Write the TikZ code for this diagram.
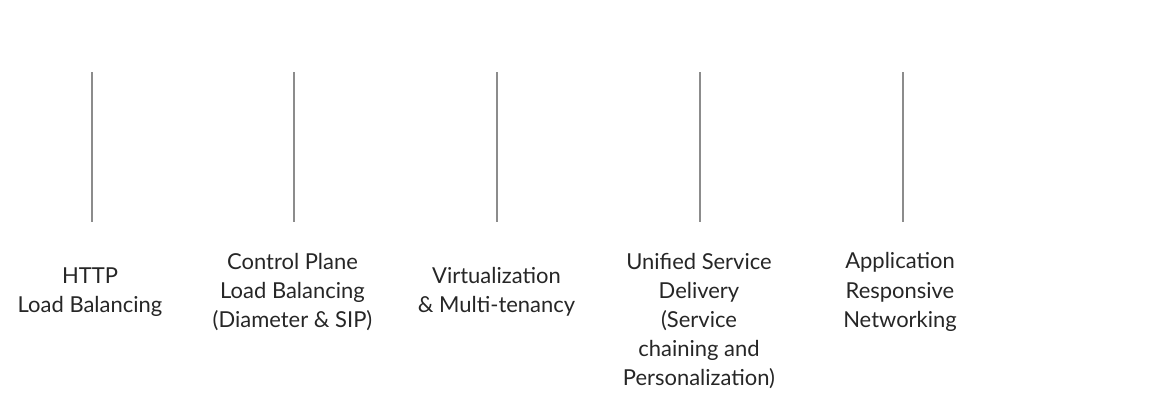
\documentclass[tikz,border=0pt]{standalone}
\usepackage{fontspec}
\setmainfont{Lato}
\begin{document}
\begin{tikzpicture}[
  lbl/.style={align=center, inner sep=2pt, text=black!85,
    font=\fontsize{12.5}{16.6}\selectfont},
  rule/.style={draw=gray!90, line width=0.7pt}
]
\useasboundingbox (0, 0) rectangle (22.98, 8.1);
\coordinate (t1) at (1.84, 6.66);
\coordinate (b1) at (1.84, 3.66);
\coordinate (t2) at (5.88, 6.66);
\coordinate (b2) at (5.88, 3.66);
\coordinate (t3) at (9.94, 6.66);
\coordinate (b3) at (9.94, 3.66);
\coordinate (t4) at (14.0, 6.66);
\coordinate (b4) at (14.0, 3.66);
\coordinate (t5) at (18.06, 6.66);
\coordinate (b5) at (18.06, 3.66);
\draw[rule] (t1) -- (b1);
\draw[rule] (t2) -- (b2);
\draw[rule] (t3) -- (b3);
\draw[rule] (t4) -- (b4);
\draw[rule] (t5) -- (b5);
\node[lbl] (http) at (1.8, 2.26) {HTTP\\Load Balancing};
\node[lbl] (ctrl) at (5.85, 2.26)
  {Control Plane\\Load Balancing\\(Diameter \& SIP)};
\node[lbl] (virt) at (9.93, 2.26) {Virtualization\\\& Multi-tenancy};
\node[lbl] (usd) at (13.98, 1.68)
  {Unified Service\\Delivery\\(Service\\chaining and\\Personalization)};
\node[lbl] (arn) at (18.0, 2.26) {Application\\Responsive\\Networking};
\end{tikzpicture}
\end{document}
